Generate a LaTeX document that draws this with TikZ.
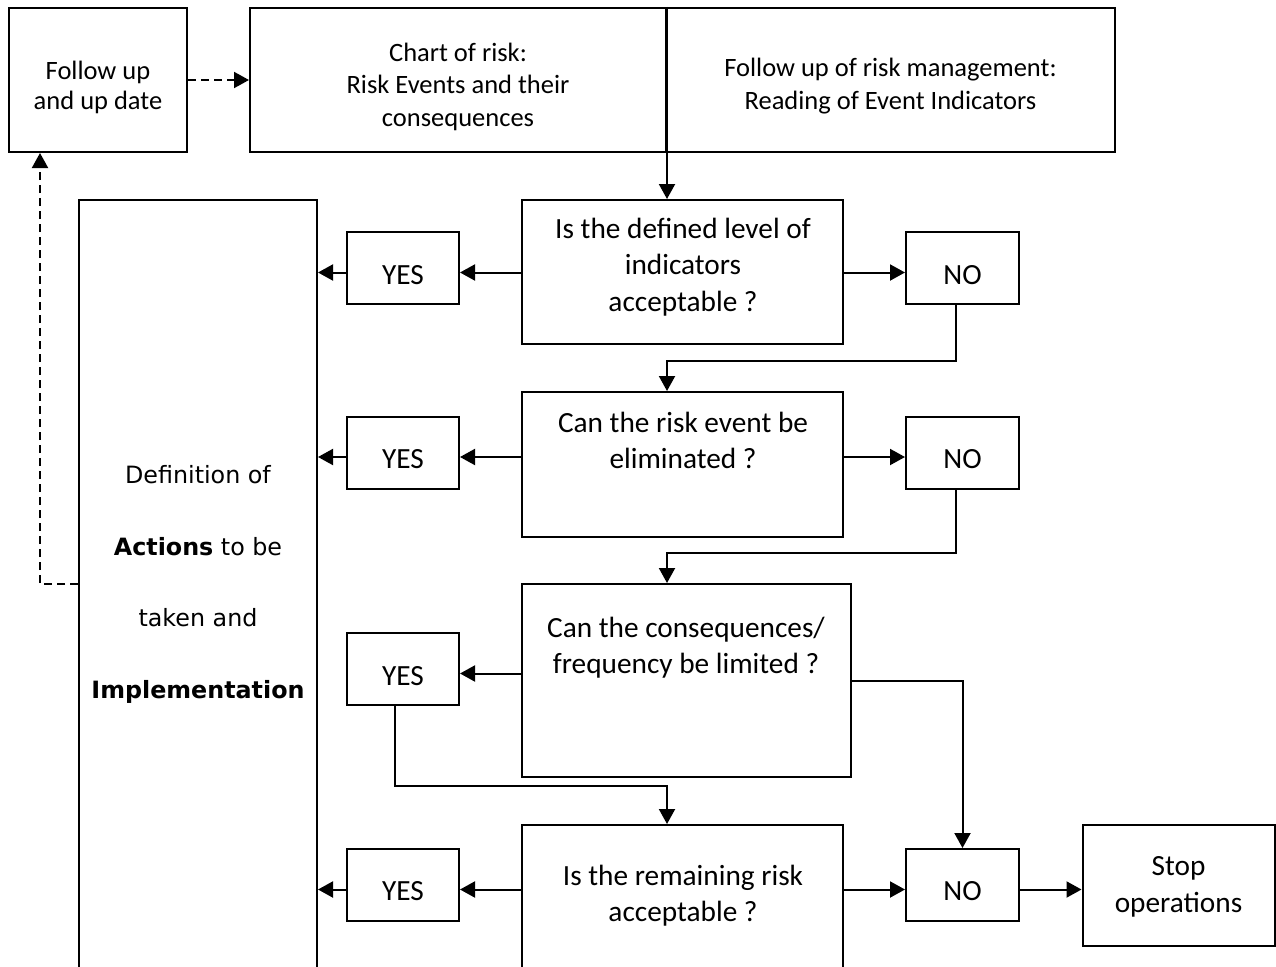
\documentclass[tikz,border=0pt]{standalone}
\usepackage{fontspec}
\setmainfont{Carlito}
\newfontfamily\actfont{DejaVu Sans}
\usetikzlibrary{arrows.meta}
\begin{document}
\begin{tikzpicture}[x=1pt,y=-1pt,
  box/.style={draw, line width=2pt, rectangle, inner sep=0pt},
  txt/.style={align=center, inner sep=0pt},
  smalltxt/.style={txt, font=\fontsize{26.5}{32.5}\selectfont},
  bigtxt/.style={txt, font=\fontsize{29.3}{36.5}\selectfont},
  acttxt/.style={txt, font=\actfont\fontsize{23.8}{71.7}\selectfont},
  link/.style={line width=2pt},
  conn/.style={link, -{Triangle[length=15pt,width=16pt]}},
  dashconn/.style={conn, dash pattern=on 8pt off 5pt}]
\useasboundingbox (0,0) rectangle (1276,966);
\clip (0,0) rectangle (1276,966);

% top row
\node[box, minimum width=178pt, minimum height=144pt] (fu) at (98,80) {};
\node[box, minimum width=416pt, minimum height=144pt] (chart) at (458,80) {};
\node[box, minimum width=449pt, minimum height=144pt] (read) at (890.5,80) {};

% actions column (runs past the lower edge)
\node[box, minimum width=238pt, minimum height=800pt] (act) at (198,600) {};

% decisions
\node[box, minimum width=321pt, minimum height=144pt] (d1) at (682.5,272) {};
\node[box, minimum width=321pt, minimum height=145pt] (d2) at (682.5,464.5) {};
\node[box, minimum width=329pt, minimum height=193pt] (d3) at (686.5,680.5) {};
\node[box, minimum width=321pt, minimum height=175pt] (d4) at (682.5,912.5) {};

% answers
\node[box, minimum width=112pt, minimum height=72pt] (yes1) at (403,268) {};
\node[box, minimum width=112pt, minimum height=72pt] (yes2) at (403,452.5) {};
\node[box, minimum width=112pt, minimum height=72pt] (yes3) at (403,669) {};
\node[box, minimum width=112pt, minimum height=72pt] (yes4) at (403,885) {};
\node[box, minimum width=113pt, minimum height=72pt] (no1) at (962.5,268) {};
\node[box, minimum width=113pt, minimum height=72pt] (no2) at (962.5,452.5) {};
\node[box, minimum width=113pt, minimum height=72pt] (no4) at (962.5,885) {};
\node[box, minimum width=192.5pt, minimum height=120.5pt] (stop) at (1178.75,885.25) {};

% texts
\node[smalltxt, font=\fontsize{26.5}{30}\selectfont] (fut) at (98,87) {Follow up\\and up date};
\node[smalltxt] (chartt) at (458,86.5) {Chart of risk:\\Risk Events and their\\consequences};
\node[smalltxt] (readt) at (890.5,86) {Follow up of risk management:\\Reading of Event Indicators};
\node[bigtxt] (d1t) at (683,267) {Is the defined level of\\indicators\\acceptable ?};
\node[bigtxt] (d2t) at (683,440.5) {Can the risk event be\\eliminated ?};
\node[bigtxt] (d3t) at (686,647.5) {Can the consequences/\\frequency be limited ?};
\node[bigtxt] (d4t) at (683,895.5) {Is the remaining risk\\acceptable ?};
\node[bigtxt] (y1t) at (403,275) {YES};
\node[bigtxt] (y2t) at (403,459) {YES};
\node[bigtxt] (y3t) at (403,676) {YES};
\node[bigtxt] (y4t) at (403,891) {YES};
\node[bigtxt] (n1t) at (962.5,275) {NO};
\node[bigtxt] (n2t) at (962.5,459) {NO};
\node[bigtxt] (n4t) at (962.5,891) {NO};
\node[bigtxt] (stopt) at (1178.5,887) {Stop\\operations};
\node[acttxt] (actt) at (198,584.5) {Definition of\\\textbf{Actions} to be\\taken and\\\textbf{Implementation}};

% dashed feedback loop
\draw[dashconn] (fu.east) -- (chart.west);
\coordinate (fbk) at (40,584);
\draw[dashconn] (act.west |- fbk) -- (fbk) -- (fbk |- fu.south);

% main flow
\draw[conn] (chart.north east) -- (chart.north east |- d1.north);

\coordinate (r1) at ([yshift=-4.5pt]yes1.center);
\coordinate (r2) at ([yshift=-4.5pt]yes2.center);
\coordinate (r3) at ([yshift=-4.5pt]yes3.center);
\coordinate (r4) at ([yshift=-4.5pt]yes4.center);

\draw[conn] (r1 -| d1.west) -- (r1 -| yes1.east);
\draw[conn] (r1 -| yes1.west) -- (r1 -| act.east);
\draw[conn] (r1 -| d1.east) -- (r1 -| no1.west);

\draw[conn] (r2 -| d2.west) -- (r2 -| yes2.east);
\draw[conn] (r2 -| yes2.west) -- (r2 -| act.east);
\draw[conn] (r2 -| d2.east) -- (r2 -| no2.west);

\draw[conn] (r3 -| d3.west) -- (r3 -| yes3.east);
\draw[conn] (d3.east) -| (no4.north);

\draw[conn] (r4 -| d4.west) -- (r4 -| yes4.east);
\draw[conn] (r4 -| yes4.west) -- (r4 -| act.east);
\draw[conn] (r4 -| d4.east) -- (r4 -| no4.west);
\draw[conn] (r4 -| no4.east) -- (r4 -| stop.west);

\coordinate (n1) at ([xshift=-7pt]no1.south);
\coordinate (n2) at ([xshift=-7pt]no2.south);
\coordinate (y3) at ([xshift=-8pt]yes3.south);
\draw[conn] (n1) -- ++(0,56) -| (d2.north -| chart.north east);
\draw[conn] (n2) -- ++(0,63.5) -| (d3.north -| chart.north east);
\draw[conn] (y3) -- ++(0,80) -| (d4.north -| chart.north east);
\end{tikzpicture}
\end{document}
